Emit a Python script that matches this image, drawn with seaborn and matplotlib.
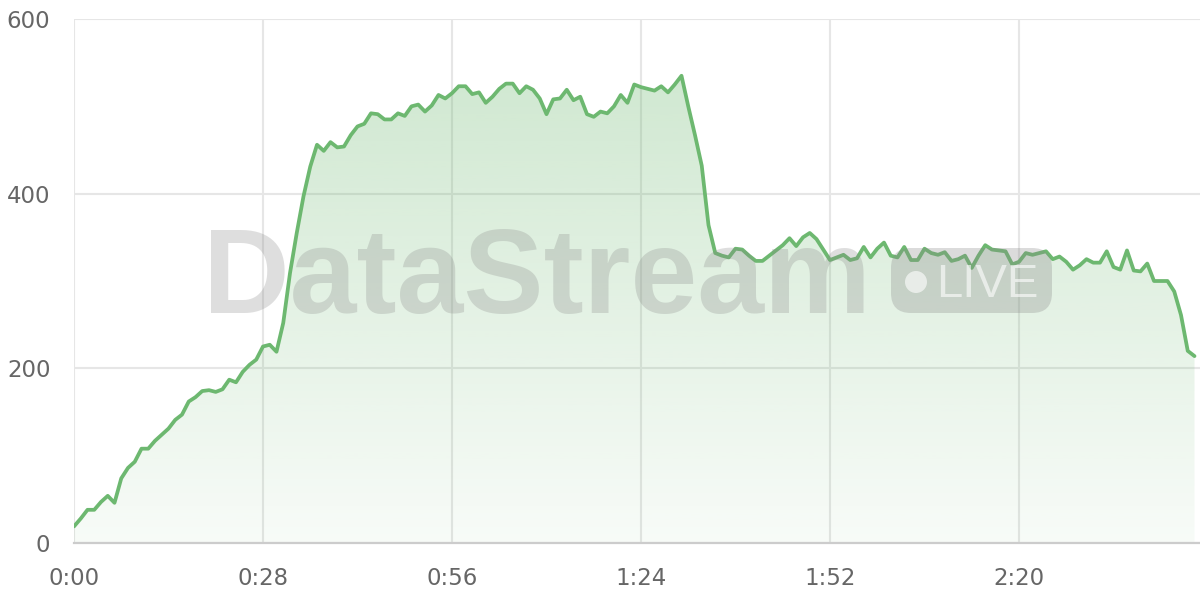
import numpy as np
import pandas as pd
import seaborn as sns
import matplotlib.pyplot as plt
from matplotlib.patches import FancyBboxPatch, Circle

# stream rate, one sample per second
seconds = list(range(167))
rate = [19, 28, 38, 38, 47, 54, 46, 74, 86, 93,
        108, 108, 117, 124, 131, 141, 147, 162, 167, 174,
        175, 173, 176, 187, 184, 196, 204, 210, 225, 227,
        219, 252, 309, 355, 397, 431, 456, 449, 459, 453,
        454, 467, 477, 480, 492, 491, 485, 485, 492, 489,
        500, 502, 494, 501, 513, 509, 515, 523, 523, 514,
        516, 504, 511, 520, 526, 526, 515, 523, 519, 509,
        491, 508, 509, 519, 507, 511, 491, 488, 494, 492,
        500, 513, 504, 525, 522, 520, 518, 523, 516, 525,
        535, 500, 467, 432, 364, 332, 329, 327, 337, 336,
        329, 323, 323, 329, 335, 341, 349, 340, 350, 355,
        348, 336, 324, 327, 330, 324, 326, 339, 327, 337,
        344, 329, 327, 339, 324, 324, 337, 332, 330, 333,
        323, 325, 329, 315, 329, 341, 336, 335, 334, 319,
        322, 332, 330, 332, 334, 325, 328, 322, 313, 318,
        325, 321, 321, 334, 316, 313, 335, 312, 311, 320,
        300, 300, 300, 288, 261, 220, 214]
tick_seconds = [0, 28, 56, 84, 112, 140]
tick_labels = ['0:00', '0:28', '0:56', '1:24', '1:52', '2:20']
y_ticks = [0, 200, 400, 600]

GREEN = '#6db870'
GRID = '#e6e6e6'
LABEL = '#666666'

sns.set_style('white')
plt.rcParams['font.family'] = ['DejaVu Sans']

df = pd.DataFrame({'second': seconds, 'rate': rate})

fig = plt.figure(figsize=(12, 6), dpi=100)
W, H = 1200, 600
ax = fig.add_axes([74 / W, 57 / H, 1126 / W, 524 / H])

# gradient fill under the line, clipped to the area polygon
poly = ax.fill_between(df['second'], df['rate'], 0, color='none', lw=0)
grad = np.zeros((256, 1, 4))
grad[..., :3] = plt.matplotlib.colors.to_rgb(GREEN)
grad[:, 0, 3] = np.linspace(0.32, 0.05, 256)
im = ax.imshow(grad, extent=[0, max(seconds), 0, max(rate)], aspect='auto',
               origin='upper', zorder=1)
im.set_clip_path(poly.get_paths()[0], ax.transData)

sns.lineplot(data=df, x='second', y='rate', color=GREEN, lw=2.7, ax=ax, zorder=4)

ax.set_xlim(0, 1126 / 6.75)
ax.set_ylim(0, 600)
ax.set_xticks(tick_seconds)
ax.set_xticklabels(tick_labels)
ax.set_yticks(y_ticks)
ax.set_xlabel('')
ax.set_ylabel('')
ax.grid(True, color=GRID, lw=1.5, zorder=0)
ax.set_axisbelow(True)
for s in ['top', 'right', 'left']:
    ax.spines[s].set_visible(False)
ax.spines['bottom'].set_color('#cccccc')
ax.spines['bottom'].set_linewidth(1.6)
ax.tick_params(axis='y', length=11.5, width=1.1, color=GRID, pad=5.5,
               labelsize=16.5, labelcolor=LABEL)
ax.tick_params(axis='x', length=10, width=1.1, color=GRID, pad=7.5,
               labelsize=16.5, labelcolor=LABEL)

# watermark, placed in pixel units (inches at 100 dpi)
px = fig.dpi_scale_trans
wm = '#888888'
fig.text(2.03, 6 - 3.13, 'DataStream', fontsize=86.5, fontweight='bold',
         family='Liberation Sans', color=wm, alpha=0.27, ha='left', va='baseline',
         transform=px, zorder=3)
pill = FancyBboxPatch((8.91, 6 - 3.13), 1.61, 0.65,
                      boxstyle='round,pad=0,rounding_size=0.2',
                      transform=px, facecolor=wm, alpha=0.30,
                      edgecolor='none', zorder=3)
fig.add_artist(pill)
fig.add_artist(Circle((9.16, 6 - 2.82), 0.11, transform=px,
                      facecolor='white', alpha=0.6, edgecolor='none', zorder=3))
fig.text(9.36, 6 - 2.97, 'LIVE', fontsize=34, family='Liberation Sans',
         color='white', alpha=0.6, ha='left', va='baseline', transform=px,
         zorder=3)

fig.savefig('out.png', dpi=100)
